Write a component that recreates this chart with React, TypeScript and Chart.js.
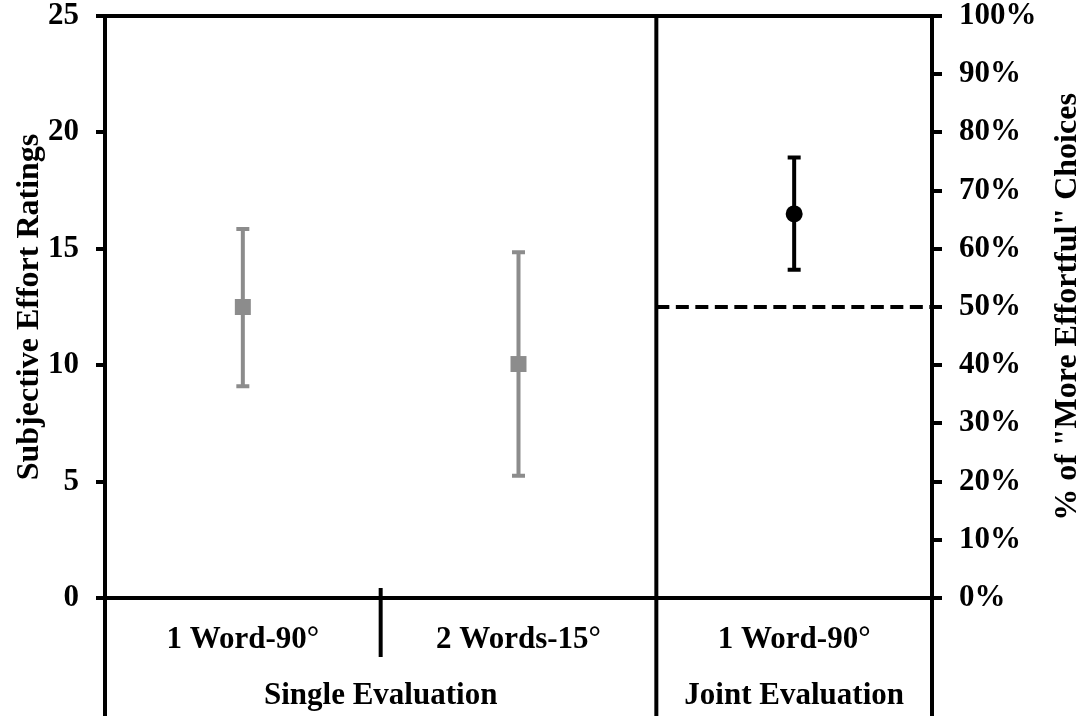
import React, { useEffect, useRef } from "react";
import { Chart, registerables } from "chart.js";

Chart.register(...registerables);

// Categories and groups along the bottom
const categories = ["1 Word-90°", "2 Words-15°", "1 Word-90°"];
const groups = ["Single Evaluation", "Joint Evaluation"];
const groupSpans = [[0, 1], [2, 2]]; // category index ranges for each group

// Single evaluation: subjective effort ratings (left axis)
const singlePositions = [0, 1];
const singleMeans = [12.5, 10.05];
const singleLow = [9.1, 5.25];
const singleHigh = [15.85, 14.85];

// Joint evaluation: % choosing "more effortful" (right axis)
const jointPositions = [2];
const jointMeans = [66];
const jointLow = [56.4];
const jointHigh = [75.7];
const chanceLevel = 50;

// Axis ticks
const leftTicks = [0, 5, 10, 15, 20, 25];
const rightTicks = [0, 10, 20, 30, 40, 50, 60, 70, 80, 90, 100];

const GRAY = "#8c8c8c";
const FONT = "'Liberation Serif', 'Times New Roman', serif";

const errorBarsPlugin = {
  id: "errorBars",
  beforeDatasetsDraw(chart: any) {
    const ctx = chart.ctx;
    const x = chart.scales.x;
    const draw = (
      positions: number[],
      lows: number[],
      highs: number[],
      yScale: any,
      color: string
    ) => {
      ctx.save();
      ctx.strokeStyle = color;
      ctx.lineWidth = 4;
      positions.forEach((p, i) => {
        const px = x.getPixelForValue(p);
        const yl = yScale.getPixelForValue(lows[i]);
        const yh = yScale.getPixelForValue(highs[i]);
        ctx.beginPath();
        ctx.moveTo(px, yl);
        ctx.lineTo(px, yh);
        ctx.moveTo(px - 6.5, yl);
        ctx.lineTo(px + 6.5, yl);
        ctx.moveTo(px - 6.5, yh);
        ctx.lineTo(px + 6.5, yh);
        ctx.stroke();
      });
      ctx.restore();
    };
    draw(singlePositions, singleLow, singleHigh, chart.scales.y, GRAY);
    draw(jointPositions, jointLow, jointHigh, chart.scales.y1, "#000");
  },
};

const framePlugin = {
  id: "frame",
  afterDraw(chart: any) {
    const ctx = chart.ctx;
    const { left, right, top, bottom } = chart.chartArea;
    const x = chart.scales.x;
    const H = chart.height;
    ctx.save();
    ctx.strokeStyle = "#000";
    ctx.lineWidth = 4;
    ctx.lineCap = "butt";
    const line = (x1: number, y1: number, x2: number, y2: number) => {
      ctx.beginPath();
      ctx.moveTo(x1, y1);
      ctx.lineTo(x2, y2);
      ctx.stroke();
    };
    // plot frame
    line(left - 2, top, right + 2, top);
    line(left - 2, bottom, right + 2, bottom);
    line(left, top - 2, left, H);
    line(right, top - 2, right, H);
    // divider between single and joint evaluation
    const groupSplit = x.getPixelForValue(
      (groupSpans[0][1] + groupSpans[1][0]) / 2
    );
    line(groupSplit, top, groupSplit, H);
    // divider between categories within a group
    const catSplit = x.getPixelForValue(0.5);
    line(catSplit, bottom - 10, catSplit, bottom + 59);

    // category and group labels
    ctx.fillStyle = "#000";
    ctx.textAlign = "center";
    ctx.textBaseline = "middle";
    ctx.font = `bold 31px ${FONT}`;
    categories.forEach((c, i) => {
      ctx.fillText(c, x.getPixelForValue(i), bottom + 42);
    });
    groups.forEach((g, i) => {
      const cx =
        (x.getPixelForValue(groupSpans[i][0]) +
          x.getPixelForValue(groupSpans[i][1])) /
        2;
      ctx.fillText(g, cx, bottom + 98);
    });

    // axis titles
    ctx.font = `bold 32px ${FONT}`;
    const cy = (top + bottom) / 2;
    ctx.save();
    ctx.translate(30, cy);
    ctx.rotate(-Math.PI / 2);
    ctx.fillText("Subjective Effort Ratings", 0, 0);
    ctx.restore();
    ctx.save();
    ctx.translate(1068, cy);
    ctx.rotate(-Math.PI / 2);
    ctx.fillText('% of "More Effortful" Choices', 0, 0);
    ctx.restore();
    ctx.restore();
  },
};

export default function App() {
  const canvasRef = useRef<HTMLCanvasElement | null>(null);

  useEffect(() => {
    if (!canvasRef.current) return;
    const tickFont = { family: FONT, size: 31, weight: "bold" as const };
    const chart = new Chart(canvasRef.current, {
      type: "scatter",
      data: {
        datasets: [
          {
            label: "Single",
            data: singlePositions.map((p, i) => ({ x: p, y: singleMeans[i] })),
            yAxisID: "y",
            pointStyle: "rect",
            pointRadius: 11.3,
            backgroundColor: GRAY,
            borderColor: GRAY,
            borderWidth: 0,
          },
          {
            label: "Joint",
            data: jointPositions.map((p, i) => ({ x: p, y: jointMeans[i] })),
            yAxisID: "y1",
            pointStyle: "circle",
            pointRadius: 8.5,
            backgroundColor: "#000",
            borderColor: "#000",
            borderWidth: 0,
          },
          {
            label: "Chance",
            type: "line",
            data: [
              { x: 1.5, y: chanceLevel },
              { x: 2.5, y: chanceLevel },
            ],
            yAxisID: "y1",
            borderColor: "#000",
            borderWidth: 4,
            borderDash: [13, 6.5],
            pointRadius: 0,
            fill: false,
          },
        ],
      },
      options: {
        responsive: false,
        animation: false,
        layout: { padding: { top: 16, bottom: 118, left: 0, right: 0 } },
        plugins: {
          legend: { display: false },
          tooltip: { enabled: false },
        },
        scales: {
          x: {
            type: "linear",
            min: -0.5,
            max: 2.5,
            display: false,
          },
          y: {
            position: "left",
            min: 0,
            max: 25,
            afterFit(scale: any) {
              scale.width = 105;
              scale.paddingTop = 0;
              scale.paddingBottom = 0;
            },
            afterBuildTicks(scale: any) {
              scale.ticks = leftTicks.map((v) => ({ value: v }));
            },
            ticks: {
              color: "#000",
              font: tickFont,
              padding: 17,
            },
            grid: {
              drawOnChartArea: false,
              drawTicks: true,
              tickLength: 9,
              tickWidth: 4,
              tickColor: "#000",
              lineWidth: 4,
              color: "#000",
            },
            border: { display: false },
          },
          y1: {
            position: "right",
            min: 0,
            max: 100,
            afterFit(scale: any) {
              scale.width = 152;
              scale.paddingTop = 0;
              scale.paddingBottom = 0;
            },
            afterBuildTicks(scale: any) {
              scale.ticks = rightTicks.map((v) => ({ value: v }));
            },
            ticks: {
              color: "#000",
              font: tickFont,
              padding: 17,
              callback: (v: any) => `${v}%`,
            },
            grid: {
              drawOnChartArea: false,
              drawTicks: true,
              tickLength: 10,
              tickWidth: 4,
              tickColor: "#000",
              lineWidth: 4,
              color: "#000",
            },
            border: { display: false },
          },
        },
      },
      plugins: [errorBarsPlugin, framePlugin],
    });
    return () => chart.destroy();
  }, []);

  return (
    <div
      style={{
        position: "absolute",
        left: 0,
        top: 0,
        width: 1084,
        height: 716,
        background: "#fff",
      }}
    >
      <canvas ref={canvasRef} width={1084} height={716} />
    </div>
  );
}
